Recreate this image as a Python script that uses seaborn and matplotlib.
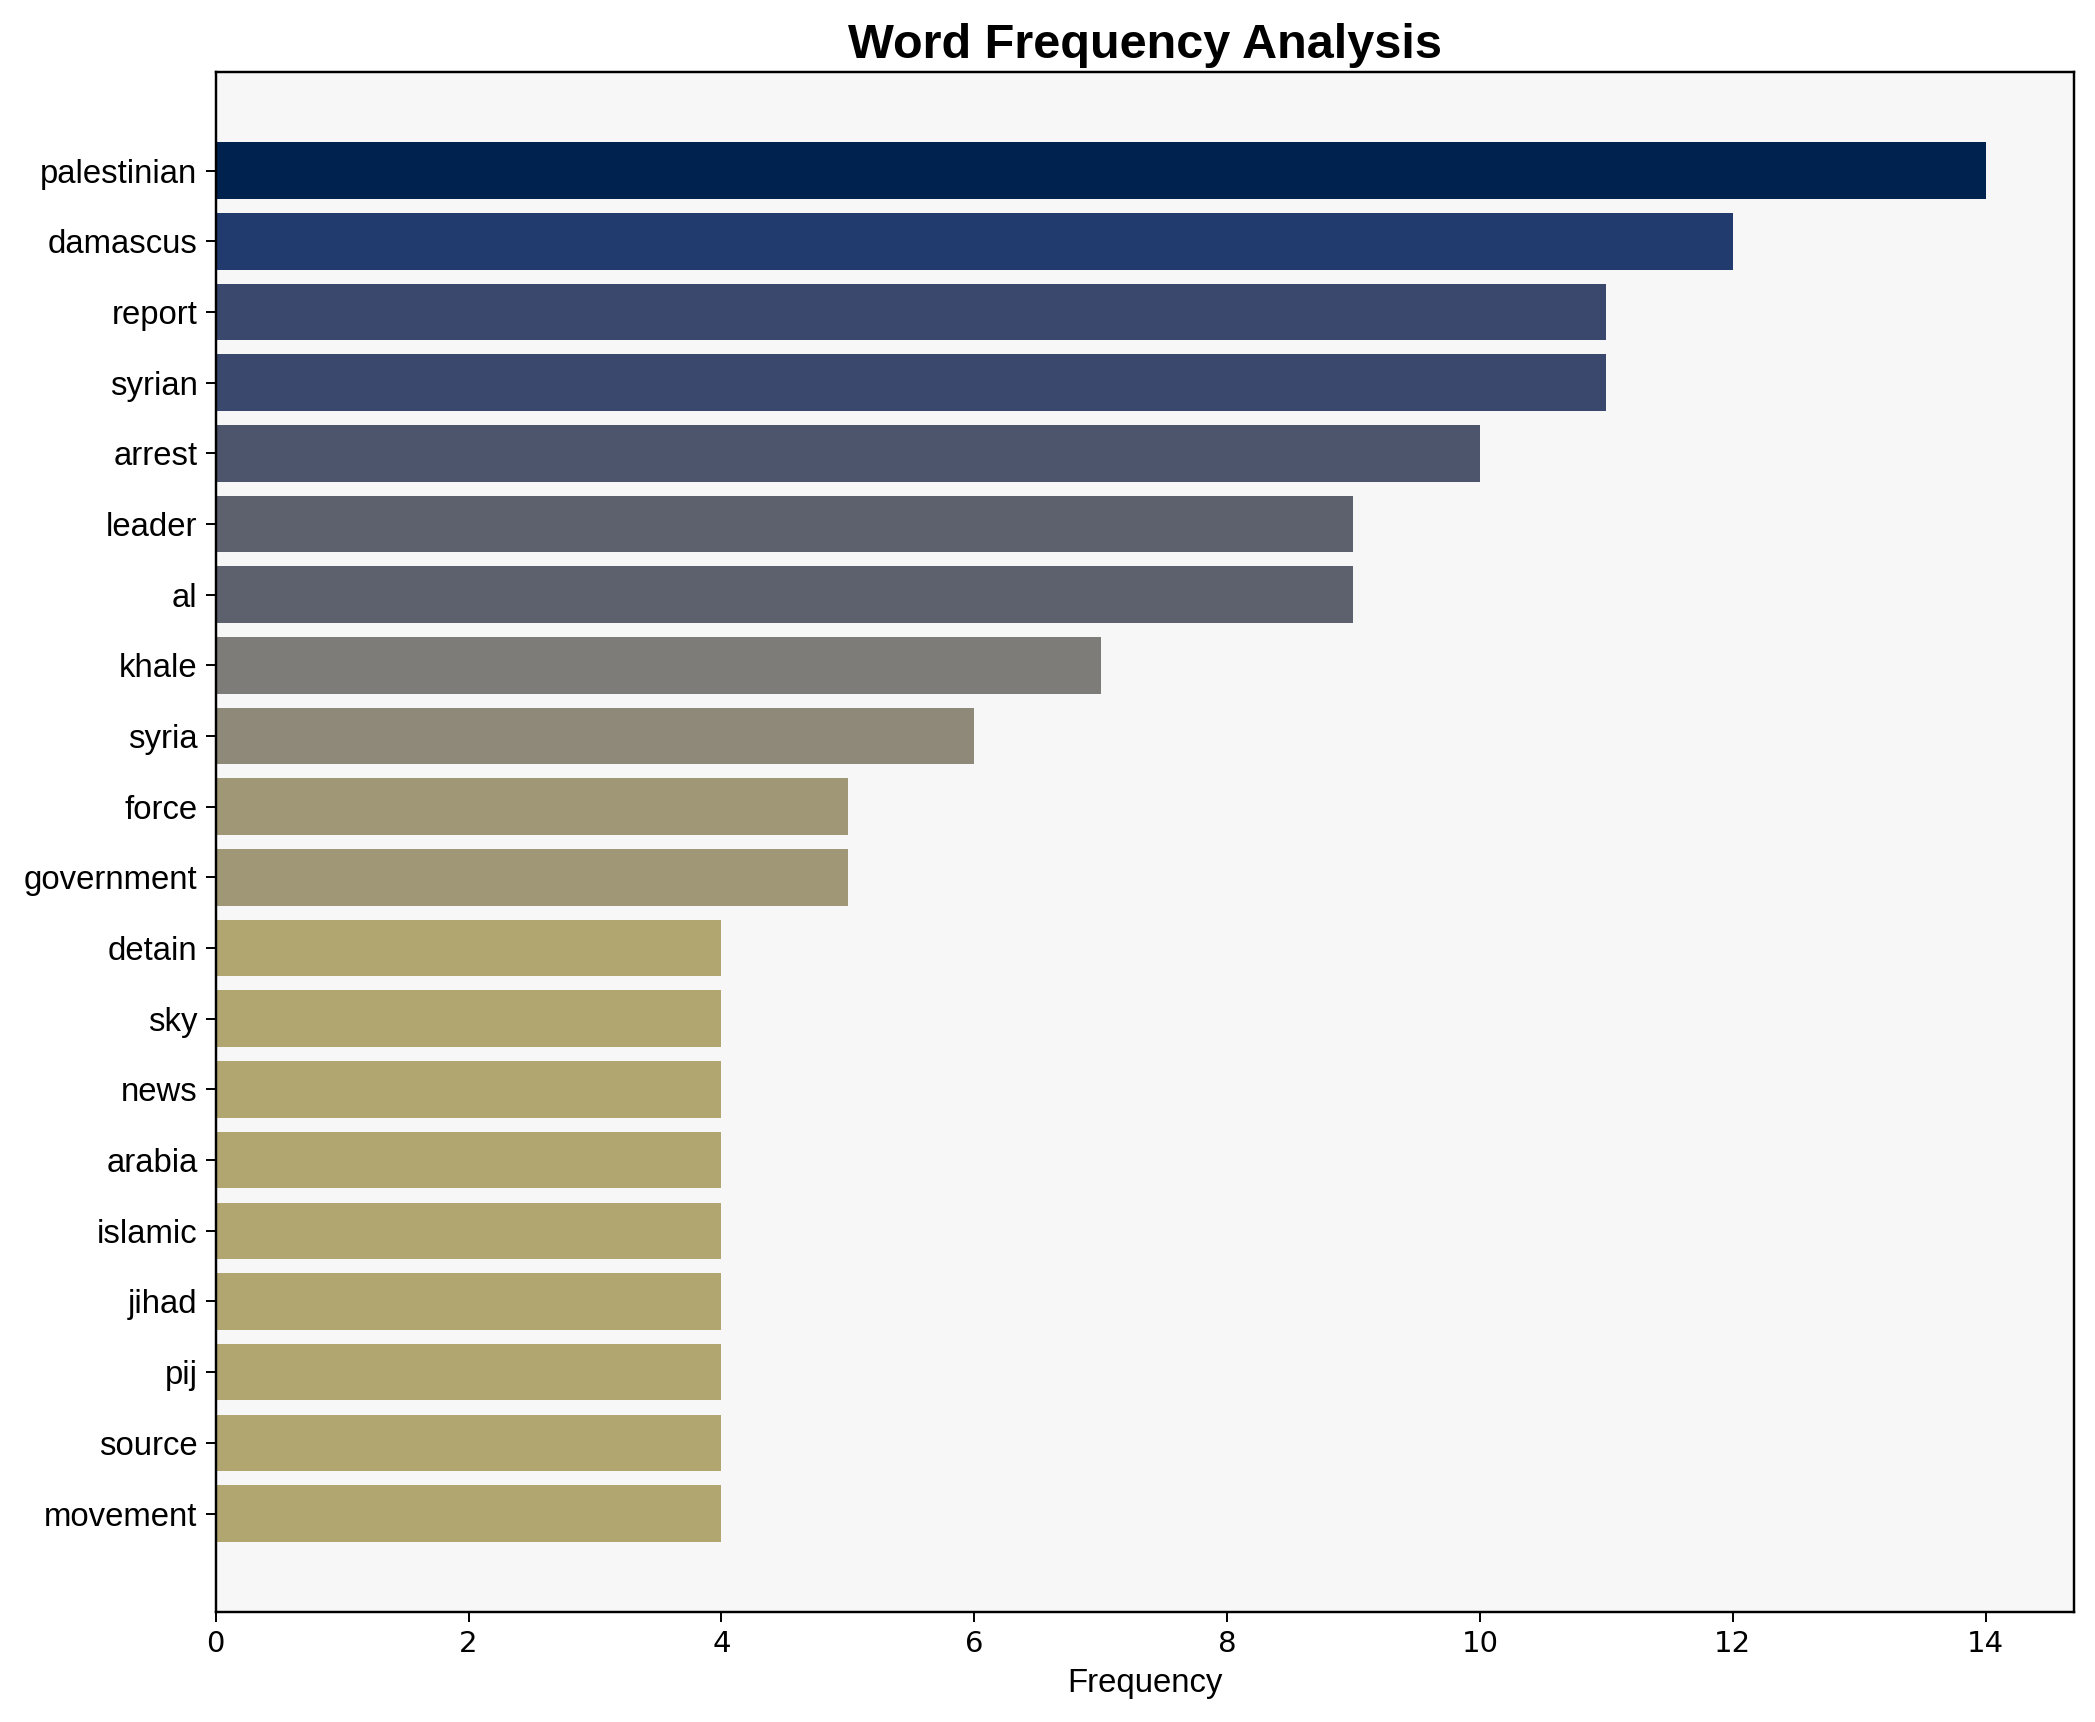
import matplotlib
matplotlib.use("Agg")
import matplotlib.pyplot as plt
import seaborn as sns
import numpy as np
import pandas as pd

words = ["palestinian", "damascus", "report", "syrian", "arrest", "leader", "al",
         "khale", "syria", "force", "government", "detain", "sky", "news", "arabia",
         "islamic", "jihad", "pij", "source", "movement"]
freqs = [14, 12, 11, 11, 10, 9, 9, 7, 6, 5, 5, 4, 4, 4, 4, 4, 4, 4, 4, 4]

sns.set_style("ticks")
plt.rcParams['font.family'] = ['Liberation Sans', 'DejaVu Sans']
plt.rcParams['text.color'] = 'black'
plt.rcParams['axes.labelcolor'] = 'black'

df = pd.DataFrame({"word": words, "freq": freqs})
vmax = max(freqs)
cmap = plt.cm.cividis
colors = [cmap(1 - f / vmax) for f in freqs]

fig = plt.figure(figsize=(2095 / 175, 1722 / 175), dpi=175)
ax = fig.add_axes([0.103, 0.064, 0.887, 0.894])
ax.set_facecolor("#f7f7f7")
sns.barplot(data=df, x="freq", y="word", hue="word", palette=colors, legend=False,
            saturation=1, width=0.8, orient="h", linewidth=0, edgecolor="none", ax=ax)
n = len(words)
ax.set_ylim(n - 1 + 1.39, -1.39)
ax.set_xlim(0, 14.7)
ax.set_xlabel("Frequency", fontsize=13.5, color="black")
ax.set_ylabel("")
ax.set_title("Word Frequency Analysis", fontsize=20, fontweight="bold", color="black")
ax.tick_params(axis="both", colors="black", direction="out", length=4)
for lab in ax.get_yticklabels():
    lab.set_fontsize(13.5)
    lab.set_fontfamily(["Liberation Sans", "DejaVu Sans"])
for lab in ax.get_xticklabels():
    lab.set_fontsize(12)
    lab.set_fontfamily(["DejaVu Sans"])
for s in ax.spines.values():
    s.set_visible(True)
    s.set_color("black")
    s.set_linewidth(1.0)
fig.savefig("out.png", dpi=175, facecolor="white")
